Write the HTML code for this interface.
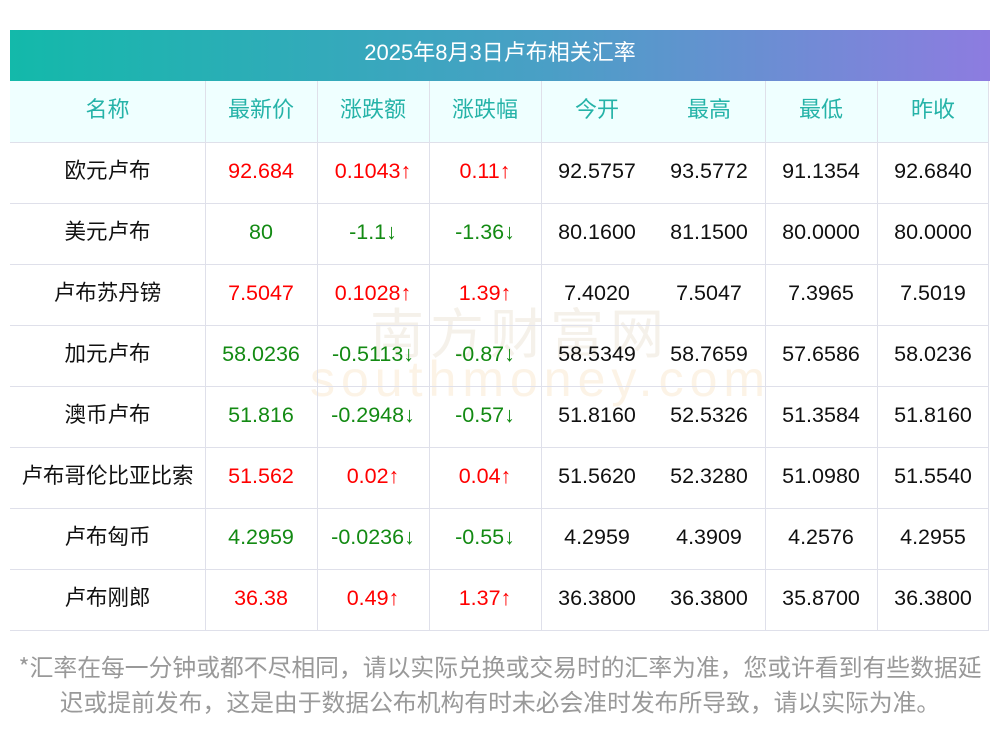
<!DOCTYPE html>
<html><head><meta charset="utf-8"><style>
*{margin:0;padding:0;box-sizing:border-box}
body{width:1000px;height:733px;background:#fff;position:relative;overflow:hidden;font-family:"Liberation Sans","Noto Sans CJK SC",sans-serif}
.title{position:absolute;left:10px;top:30px;width:980px;height:51px;background:linear-gradient(90deg,#13b9aa,#4a9fc6 55%,#8d7ce0);color:#fff;font-size:22px;text-align:center;line-height:46px}
.hdr{position:absolute;left:10px;top:81px;width:979px;height:61px;background:#efffff}
.c{position:absolute;height:61px;line-height:58px;text-align:center;font-size:21.5px;color:#111}
.h{color:#25b3a8;font-size:22px}
.r{color:#f00}.g{color:#138a13}
.hl{position:absolute;left:10px;width:979px;height:1px;background:#dfe0ea}
.vl{position:absolute;top:81px;height:550px;width:1px;background:#dfe0ea}
.wm{position:absolute;color:#f5f1ea;font-size:54px;letter-spacing:6px}
.ft{position:absolute;left:0;width:1000px;text-align:center;color:#999;font-size:23.8px;font-family:"Noto Sans CJK SC",sans-serif}
</style></head><body>
<div class="title">2025年8月3日卢布相关汇率</div>
<div class="hdr"></div>
<div class="wm" style="left:370px;top:290px">南方财富网</div>
<div class="wm" style="left:310px;top:350px;font-size:50px;color:#fcf3e6">southmoney.com</div>
<div class="hl" style="top:142px"></div><div class="hl" style="top:203px"></div><div class="hl" style="top:264px"></div><div class="hl" style="top:325px"></div><div class="hl" style="top:386px"></div><div class="hl" style="top:447px"></div><div class="hl" style="top:508px"></div><div class="hl" style="top:569px"></div><div class="hl" style="top:630px"></div>
<div class="vl" style="left:205px"></div><div class="vl" style="left:317px"></div><div class="vl" style="left:429px"></div><div class="vl" style="left:541px"></div><div class="vl" style="left:765px"></div><div class="vl" style="left:877px"></div><div class="vl" style="left:988px"></div>
<div id="t"></div>
<script>
var cols=[[10,195],[205,112],[317,112],[429,112],[541,112],[653,112],[765,112],[877,112]];
var rows=[["名称","最新价","涨跌额","涨跌幅","今开","最高","最低","昨收"],
["欧元卢布","92.684","0.1043↑","0.11↑","92.5757","93.5772","91.1354","92.6840"],
["美元卢布","80","-1.1↓","-1.36↓","80.1600","81.1500","80.0000","80.0000"],
["卢布苏丹镑","7.5047","0.1028↑","1.39↑","7.4020","7.5047","7.3965","7.5019"],
["加元卢布","58.0236","-0.5113↓","-0.87↓","58.5349","58.7659","57.6586","58.0236"],
["澳币卢布","51.816","-0.2948↓","-0.57↓","51.8160","52.5326","51.3584","51.8160"],
["卢布哥伦比亚比索","51.562","0.02↑","0.04↑","51.5620","52.3280","51.0980","51.5540"],
["卢布匈币","4.2959","-0.0236↓","-0.55↓","4.2959","4.3909","4.2576","4.2955"],
["卢布刚郎","36.38","0.49↑","1.37↑","36.3800","36.3800","35.8700","36.3800"]];
var h="";
rows.forEach(function(r,i){var top=81+i*61;
var cls=i==0?"h":(r[2].charAt(0)=="-"?"g":"r");
r.forEach(function(v,j){var k=(j>=1&&j<=3)||i==0?cls:"";
h+='<div class="c '+k+'" style="left:'+cols[j][0]+'px;width:'+cols[j][1]+'px;top:'+top+'px">'+v+'</div>';});});
document.getElementById("t").innerHTML=h;
</script>
<div class="ft" style="top:648px">*汇率在每一分钟或都不尽相同，请以实际兑换或交易时的汇率为准，您或许看到有些数据延</div>
<div class="ft" style="top:683px">迟或提前发布，这是由于数据公布机构有时未必会准时发布所导致，请以实际为准。</div>
</body></html>
